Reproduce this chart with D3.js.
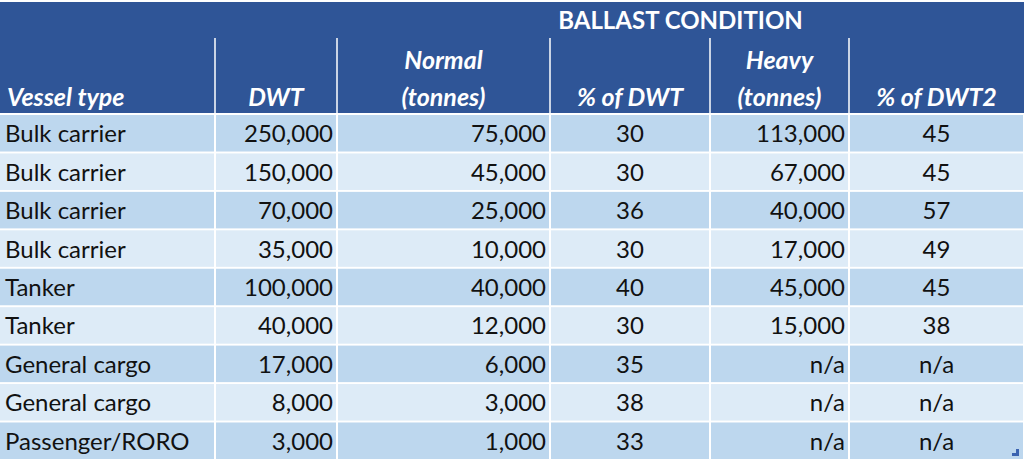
<!DOCTYPE html>
<html>
<head>
<meta charset="utf-8">
<script src="https://cdn.jsdelivr.net/npm/d3@7"></script>
<style>
  html, body { margin: 0; padding: 0; background: #fff; }
  svg { display: block; font-family: Lato, "Open Sans", sans-serif; }
</style>
</head>
<body>
<div id="table"></div>
<script>
const width = 1024, height = 459;

const vesselTypes = ["Bulk carrier", "Bulk carrier", "Bulk carrier", "Bulk carrier", "Tanker", "Tanker", "General cargo", "General cargo", "Passenger/RORO"];
const dwt = [250000, 150000, 70000, 35000, 100000, 40000, 17000, 8000, 3000];
const normalTonnes = [75000, 45000, 25000, 10000, 40000, 12000, 6000, 3000, 1000];
const normalPct = [30, 30, 36, 30, 40, 30, 35, 38, 33];
const heavyTonnes = [113000, 67000, 40000, 17000, 45000, 15000, null, null, null];
const heavyPct = [45, 45, 57, 49, 45, 38, null, null, null];
const columnLabels = [["Vessel type"], ["DWT"], ["Normal", "(tonnes)"], ["% of DWT"], ["Heavy", "(tonnes)"], ["% of DWT2"]];
const groupLabel = "BALLAST CONDITION";

// column edges and alignment
const colEdges = [0, 215, 337, 550, 710, 849, 1024];
const colAlign = ["left", "right", "right", "center", "right", "center"];

const headerBlue = "#2f5597";
const rowDark = "#bdd7ee", rowLight = "#ddebf7";
const fontSize = 24;

const fmt = d3.format(",");
const cell = (v) => v == null ? "n/a" : fmt(v);

const rows = vesselTypes.map((t, i) => [t, cell(dwt[i]), cell(normalTonnes[i]), cell(normalPct[i]), cell(heavyTonnes[i]), cell(heavyPct[i])]);

const headerTop = 2, headerBottom = 113, subTop = 38;

const y = d3.scaleBand()
  .domain(d3.range(rows.length))
  .range([115, 459])
  .paddingInner(0.05)
  .paddingOuter(0);

let svg = d3.select("#table")
  .append("svg")
  .attr("width", width)
  .attr("height", height);

// header block
svg.append("rect")
  .attr("x", colEdges[0])
  .attr("y", headerTop)
  .attr("width", colEdges[6] - colEdges[0])
  .attr("height", headerBottom - headerTop)
  .attr("fill", headerBlue);

// header separators
svg.append("g").selectAll("line")
  .data(colEdges.slice(1, -1))
  .join("line")
  .attr("x1", (d) => d).attr("x2", (d) => d)
  .attr("y1", subTop).attr("y2", headerBottom)
  .attr("stroke", "#fff")
  .attr("stroke-width", 1.5);

svg.append("text")
  .attr("x", (colEdges[2] + colEdges[6]) / 2)
  .attr("y", 29)
  .attr("text-anchor", "middle")
  .attr("fill", "#fff")
  .attr("font-weight", "bold")
  .attr("font-size", fontSize)
  .text(groupLabel);

function textX(c) {
  const a = colAlign[c];
  if (a == "left") return colEdges[c] + 5;
  if (a == "right") return colEdges[c + 1] - 4;
  return (colEdges[c] + colEdges[c + 1]) / 2;
}
const anchor = (c) => ({ left: "start", right: "end", center: "middle" })[colAlign[c]];

let headG = svg.append("g").selectAll("text")
  .data(columnLabels)
  .join("text")
  .attr("text-anchor", (d, i) => i == 0 ? "start" : "middle")
  .attr("fill", "#fff")
  .attr("font-weight", "bold")
  .attr("font-style", "italic")
  .attr("font-size", fontSize + 1);

headG.selectAll("tspan")
  .data((d, i) => d.map((s, k) => ({ s, k, n: d.length, c: i })))
  .join("tspan")
  .attr("x", (d) => d.c == 0 ? colEdges[0] + 7 : (colEdges[d.c] + colEdges[d.c + 1]) / 2)
  .attr("y", (d) => 106 - (d.n - 1 - d.k) * 37)
  .text((d) => d.s);

// body rows
let rowG = svg.append("g").selectAll("g")
  .data(rows)
  .join("g")
  .attr("transform", (d, i) => "translate(0," + y(i) + ")");

rowG.selectAll("rect")
  .data((d, i) => d.map((v, c) => ({ v, c, i })))
  .join("rect")
  .attr("x", (d) => colEdges[d.c] + (d.c == 0 ? 0 : 1))
  .attr("width", (d) => colEdges[d.c + 1] - colEdges[d.c] - (d.c == 0 ? 1 : 2))
  .attr("height", y.bandwidth())
  .attr("fill", (d) => d.i % 2 == 0 ? rowDark : rowLight);

rowG.selectAll("text")
  .data((d) => d.map((v, c) => ({ v, c })))
  .join("text")
  .attr("x", (d) => textX(d.c))
  .attr("y", y.bandwidth() / 2 + 9)
  .attr("text-anchor", (d) => anchor(d.c))
  .attr("fill", "#111")
  .attr("font-size", fontSize)
  .text((d) => d.v);

// little resize handle in the corner
svg.append("path")
  .attr("d", "M1019,449 V456 H1012 V453 H1016 V449 Z")
  .attr("fill", "#3b63b0");
</script>
</body>
</html>
